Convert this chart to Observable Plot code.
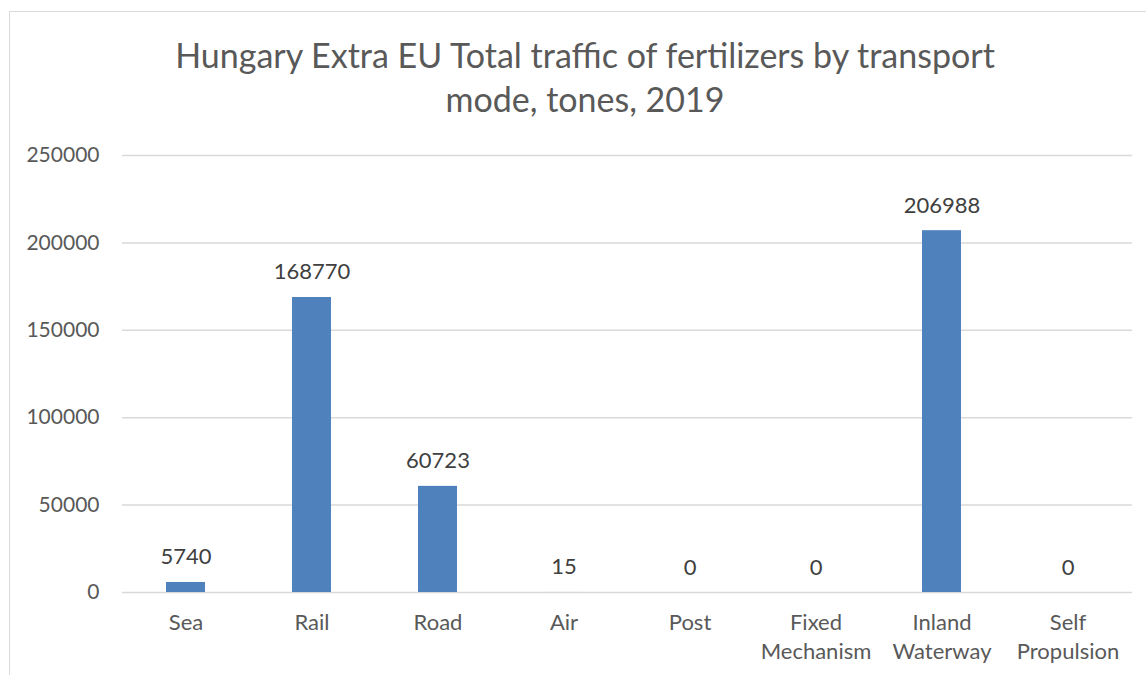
<!DOCTYPE html>
<html>
<head>
<meta charset="utf-8">
<script src="https://cdn.jsdelivr.net/npm/d3@7"></script>
<script src="https://cdn.jsdelivr.net/npm/@observablehq/plot@0.6"></script>
<style>
  html, body { margin: 0; padding: 0; background: #fff; }
  #wrap { position: relative; width: 1146px; height: 675px; overflow: hidden; font-family: Lato, "Open Sans", sans-serif; }
  #frame { position: absolute; left: 9px; top: 11px; width: 1200px; height: 700px; border: 1px solid #d9d9d9; box-sizing: border-box; }
  #title { position: absolute; left: 0; top: 0; width: 1170px; height: 140px; text-align: center; color: #595959; font-size: 34px; line-height: 44px; padding-top: 33px; box-sizing: border-box; }
  #chart { position: absolute; left: 0; top: 140px; }
</style>
</head>
<body>
<div id="wrap">
  <div id="frame"></div>
  <div id="title">Hungary Extra EU Total traffic of fertilizers by transport<br>mode, tones, 2019</div>
  <div id="chart"></div>
</div>
<script>
const categories = ["Sea", "Rail", "Road", "Air", "Post", "Fixed Mechanism", "Inland Waterway", "Self Propulsion"];
const values = [5740, 168770, 60723, 15, 0, 0, 206988, 0];
const yTicks = [0, 50000, 100000, 150000, 200000, 250000];

const data = categories.map((c, i) => ({mode: c, value: values[i]}));

const chart = Plot.plot({
  width: 1146,
  height: 535,
  marginTop: 15,
  marginBottom: 83,
  marginLeft: 122,
  marginRight: 14,
  style: {fontFamily: "Lato, 'Open Sans', sans-serif", background: "transparent"},
  x: {domain: categories, paddingInner: 0.69, paddingOuter: 0.345, align: 0.5, label: null},
  y: {domain: [0, 250000], label: null},
  marks: [
    Plot.gridY(yTicks, {stroke: "#d9d9d9", strokeOpacity: 1, strokeWidth: 1.5}),
    Plot.axisY(yTicks, {tickSize: 0, tickPadding: 23, fontSize: 21, fill: "#595959", tickFormat: d => String(d), label: null}),
    Plot.axisX({tickSize: 0, tickPadding: 17, fontSize: 22, fill: "#595959", lineHeight: 1.32, tickFormat: d => d.split(" ").join("\n"), label: null}),
    Plot.barY(data, {x: "mode", y: "value", fill: "#4f81bd"}),
    Plot.text(data, {x: "mode", y: "value", text: d => String(d.value), lineAnchor: "bottom", dy: -18, fontSize: 22, fill: "#404040"})
  ]
});
document.getElementById("chart").appendChild(chart);
</script>
</body>
</html>
